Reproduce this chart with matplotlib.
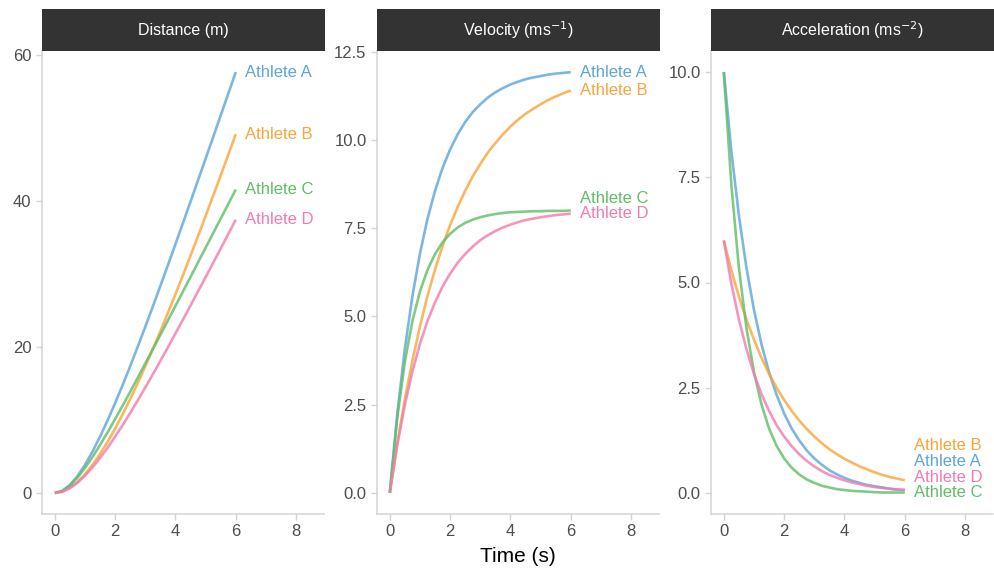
import matplotlib.pyplot as plt
import numpy as np

plt.rcParams['font.family'] = ['Liberation Sans', 'DejaVu Sans']

# time grid (s), every 0.25 s up to 6 s
time = np.arange(25) * 0.25

athletes = ['Athlete A', 'Athlete B', 'Athlete C', 'Athlete D']
colours = ['#5DA5DA', '#FAA43A', '#60BD68', '#F17CB0']

distance = {
    'Athlete A': [0, 0.29, 1.09, 2.31, 3.86, 5.68, 7.73, 9.95, 12.32, 14.81, 17.39, 20.06, 22.78,
                  25.56, 28.38, 31.23, 34.11, 37.02, 39.94, 42.88, 45.82, 48.78, 51.75, 54.72, 57.70],
    'Athlete B': [0, 0.18, 0.69, 1.49, 2.56, 3.85, 5.34, 7.00, 8.83, 10.79, 12.88, 15.07, 17.36,
                  19.73, 22.17, 24.68, 27.25, 29.87, 32.53, 35.23, 37.97, 40.74, 43.53, 46.35, 49.19],
    'Athlete C': [0, 0.28, 1.03, 2.11, 3.43, 4.94, 6.58, 8.32, 10.13, 11.98, 13.88, 15.81, 17.75,
                  19.71, 21.68, 23.66, 25.64, 27.63, 29.62, 31.62, 33.61, 35.61, 37.61, 39.60, 41.60],
    'Athlete D': [0, 0.18, 0.66, 1.41, 2.37, 3.51, 4.80, 6.20, 7.71, 9.31, 10.97, 12.69, 14.46,
                  16.27, 18.11, 19.97, 21.86, 23.77, 25.70, 27.64, 29.58, 31.54, 33.51, 35.48, 37.45],
}

velocity = {
    'Athlete A': [0, 2.26, 4.09, 5.58, 6.78, 7.77, 8.56, 9.21, 9.73, 10.16, 10.51, 10.79, 11.01,
                  11.20, 11.35, 11.47, 11.57, 11.65, 11.72, 11.77, 11.81, 11.85, 11.88, 11.90, 11.92],
    'Athlete B': [0, 1.41, 2.65, 3.75, 4.72, 5.58, 6.33, 7.00, 7.59, 8.10, 8.56, 8.97, 9.32,
                  9.64, 9.91, 10.16, 10.38, 10.57, 10.74, 10.88, 11.01, 11.13, 11.23, 11.32, 11.40],
    'Athlete C': [0, 2.15, 3.72, 4.87, 5.71, 6.32, 6.77, 7.10, 7.34, 7.52, 7.65, 7.74, 7.81,
                  7.86, 7.90, 7.93, 7.95, 7.96, 7.97, 7.98, 7.98, 7.99, 7.99, 7.99, 8.00],
    'Athlete D': [0, 1.37, 2.50, 3.44, 4.22, 4.87, 5.40, 5.85, 6.21, 6.52, 6.77, 6.98, 7.16,
                  7.30, 7.42, 7.52, 7.60, 7.67, 7.73, 7.77, 7.81, 7.84, 7.87, 7.89, 7.91],
}

acceleration = {
    'Athlete A': [10, 8.12, 6.59, 5.35, 4.35, 3.53, 2.87, 2.33, 1.89, 1.53, 1.25, 1.01, 0.82,
                  0.67, 0.54, 0.44, 0.36, 0.29, 0.24, 0.19, 0.16, 0.13, 0.10, 0.08, 0.07],
    'Athlete B': [6, 5.29, 4.67, 4.12, 3.64, 3.21, 2.83, 2.50, 2.21, 1.95, 1.72, 1.52, 1.34,
                  1.18, 1.04, 0.92, 0.81, 0.72, 0.63, 0.56, 0.49, 0.43, 0.38, 0.34, 0.30],
    'Athlete C': [10, 7.32, 5.35, 3.92, 2.87, 2.10, 1.53, 1.12, 0.82, 0.60, 0.44, 0.32, 0.24,
                  0.17, 0.13, 0.09, 0.07, 0.05, 0.04, 0.03, 0.02, 0.01, 0.01, 0.01, 0.01],
    'Athlete D': [6, 4.97, 4.12, 3.42, 2.83, 2.35, 1.95, 1.61, 1.34, 1.11, 0.92, 0.76, 0.63,
                  0.52, 0.43, 0.36, 0.30, 0.25, 0.21, 0.17, 0.14, 0.12, 0.10, 0.08, 0.07],
}

# label heights, nudged apart where they would overlap
vel_label_y = {'Athlete A': 11.92, 'Athlete B': 11.40, 'Athlete C': 8.34, 'Athlete D': 7.92}
acc_label_y = {'Athlete A': 0.75, 'Athlete B': 1.13, 'Athlete C': 0.0, 'Athlete D': 0.37}

panels = [
    ('Distance (m)', distance, None, [0, 20, 40, 60], ['0', '20', '40', '60'], (-2.88, 60.58)),
    ('Velocity (ms$^{-1}$)', velocity, vel_label_y, [0, 2.5, 5, 7.5, 10, 12.5],
     ['0.0', '2.5', '5.0', '7.5', '10.0', '12.5'], (-0.6, 12.52)),
    ('Acceleration (ms$^{-2}$)', acceleration, acc_label_y, [0, 2.5, 5, 7.5, 10],
     ['0.0', '2.5', '5.0', '7.5', '10.0'], (-0.5, 10.5)),
]

fig = plt.figure(figsize=(9.94, 5.70), dpi=100)
lefts = [42, 377, 711]
axis_col = '#d4d4d4'
tick_col = '#4d4d4d'

for left, (title, data, label_y, yt, ytl, ylim) in zip(lefts, panels):
    ax = fig.add_axes([left / 994, 1 - 514 / 570, 282 / 994, 463 / 570])
    for name, col in zip(athletes, colours):
        vals = data[name]
        ax.plot(time, vals, color=col, lw=1.9, alpha=0.8, solid_capstyle='butt')
        ly = vals[-1] if label_y is None else label_y[name]
        ax.text(6.3, ly, name, color=col, fontsize=12, ha='left', va='center')
    ax.set_xlim(-0.425, 8.925)
    ax.set_ylim(*ylim)
    ax.set_xticks([0, 2, 4, 6, 8])
    ax.set_yticks(yt)
    ax.set_yticklabels(ytl)
    for s in ['top', 'right']:
        ax.spines[s].set_visible(False)
    for s in ['left', 'bottom']:
        ax.spines[s].set_color(axis_col)
        ax.spines[s].set_linewidth(1.1)
    ax.tick_params(colors=axis_col, labelcolor=tick_col, labelsize=12, length=4, width=1)

    # dark strip with the panel title
    strip = fig.add_axes([left / 994, 1 - 51 / 570, 283 / 994, 42 / 570])
    strip.set_facecolor('#333333')
    strip.set_xticks([])
    strip.set_yticks([])
    for s in strip.spines.values():
        s.set_visible(False)
    strip.text(0.5, 0.5, title, color='white', fontsize=11.5, ha='center', va='center',
               transform=strip.transAxes)

fig.text(518 / 994, 1 - 556 / 570, 'Time (s)', fontsize=15, ha='center', va='center', color='black')

fig.savefig('out.png', dpi=100)
